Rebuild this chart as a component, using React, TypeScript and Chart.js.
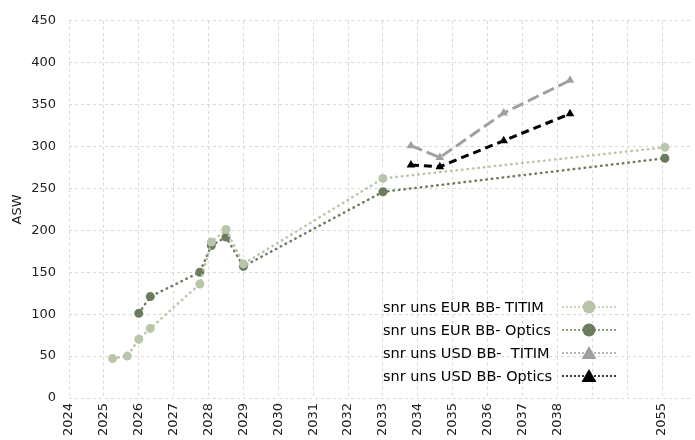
import React, { useEffect, useRef } from 'react';
import { Chart, registerables } from 'chart.js';

Chart.register(...registerables);

// ---- data ----
const tickLabels = [
  '2024', '2025', '2026', '2027', '2028', '2029', '2030', '2031', '2032',
  '2033', '2034', '2035', '2036', '2037', '2038', '', '', '2055',
];

const eurTitimYears = [2025.25, 2025.67, 2026.0, 2026.33, 2027.75, 2028.08, 2028.5, 2029.0, 2033.0, 2055.08];
const eurTitimValues = [47, 50, 70, 83, 136, 186, 201, 160, 262, 299];

const eurOpticsYears = [2026.0, 2026.33, 2027.75, 2028.08, 2028.5, 2029.0, 2033.0, 2055.08];
const eurOpticsValues = [101, 121, 150, 182, 192, 157, 246, 286];

const usdTitimYears = [2033.8, 2034.63, 2036.46, 2038.36];
const usdTitimValues = [301, 287, 340, 379];

const usdOpticsYears = [2033.8, 2034.63, 2036.46, 2038.36];
const usdOpticsValues = [278, 276, 307, 339];

const seriesNames = [
  'snr uns EUR BB- TITIM',
  'snr uns EUR BB- Optics',
  'snr uns USD BB-  TITIM',
  'snr uns USD BB- Optics',
];

// broken axis: 2024..2038 linear, then 2055 placed at slot 17
function axisPos(year: number): number {
  return year >= 2055 ? 17 + (year - 2055) : year - 2024;
}

function toPoints(years: number[], values: number[]) {
  return years.map((y, i) => ({ x: axisPos(y), y: values[i] }));
}

const LIGHT = '#b7c6a9';
const DARK = '#6a7c5c';
const GRAY = '#a0a0a0';
const BLACK = '#000000';
const FONT = '"DejaVu Sans", sans-serif';

const legendStyles = [
  { color: LIGHT, line: LIGHT, marker: 'circle' },
  { color: DARK, line: DARK, marker: 'circle' },
  { color: GRAY, line: GRAY, marker: 'triangle' },
  { color: BLACK, line: BLACK, marker: 'triangle' },
];

const legendPlugin = {
  id: 'customLegend',
  afterDraw(chart: any) {
    const ctx = chart.ctx as CanvasRenderingContext2D;
    seriesNames.forEach((name, i) => {
      const st = legendStyles[i];
      const y = 307 + i * 23;
      ctx.save();
      ctx.font = `14.5px ${FONT}`;
      ctx.fillStyle = '#000';
      ctx.textBaseline = 'middle';
      ctx.textAlign = 'left';
      ctx.fillText(name, 383, y + 1);
      ctx.strokeStyle = st.line;
      ctx.lineWidth = 1.5;
      ctx.setLineDash([2, 2]);
      ctx.beginPath();
      ctx.moveTo(562, y);
      ctx.lineTo(617, y);
      ctx.stroke();
      ctx.setLineDash([]);
      ctx.fillStyle = st.color;
      ctx.beginPath();
      if (st.marker === 'circle') {
        ctx.arc(589, y, 6.5, 0, Math.PI * 2);
      } else {
        ctx.moveTo(589, y - 7);
        ctx.lineTo(596.5, y + 6);
        ctx.lineTo(581.5, y + 6);
        ctx.closePath();
      }
      ctx.fill();
      ctx.restore();
    });
  },
};

export default function App() {
  const ref = useRef<HTMLCanvasElement | null>(null);

  useEffect(() => {
    if (!ref.current) return;
    const chart = new Chart(ref.current, {
      type: 'line',
      data: {
        datasets: [
          {
            label: seriesNames[0],
            data: toPoints(eurTitimYears, eurTitimValues),
            borderColor: LIGHT,
            backgroundColor: LIGHT,
            borderWidth: 2.5,
            borderDash: [0.5, 5],
            borderCapStyle: 'round',
            pointRadius: 4.5,
            pointStyle: 'circle',
            pointBorderWidth: 0,
            tension: 0,
          },
          {
            label: seriesNames[1],
            data: toPoints(eurOpticsYears, eurOpticsValues),
            borderColor: DARK,
            backgroundColor: DARK,
            borderWidth: 2.5,
            borderDash: [0.5, 5],
            borderCapStyle: 'round',
            pointRadius: 4.5,
            pointStyle: 'circle',
            pointBorderWidth: 0,
            tension: 0,
          },
          {
            label: seriesNames[2],
            data: toPoints(usdTitimYears, usdTitimValues),
            borderColor: GRAY,
            backgroundColor: GRAY,
            borderWidth: 3,
            borderDash: [12, 5],
            pointRadius: 5,
            pointStyle: 'triangle',
            pointBorderWidth: 0,
            tension: 0,
          },
          {
            label: seriesNames[3],
            data: toPoints(usdOpticsYears, usdOpticsValues),
            borderColor: BLACK,
            backgroundColor: BLACK,
            borderWidth: 3,
            borderDash: [8, 5],
            pointRadius: 5,
            pointStyle: 'triangle',
            pointBorderWidth: 0,
            tension: 0,
          },
        ],
      },
      options: {
        animation: false,
        responsive: false,
        layout: { padding: { top: 17, right: 0, left: 0, bottom: 0 } },
        plugins: {
          legend: { display: false },
          tooltip: { enabled: false },
        },
        scales: {
          x: {
            type: 'linear',
            min: 0,
            max: 17.8,
            afterBuildTicks: (scale: any) => {
              scale.ticks = tickLabels.map((_, i) => ({ value: i }));
            },
            afterFit: (scale: any) => {
              scale.height = 42;
            },
            ticks: {
              autoSkip: false,
              minRotation: 90,
              maxRotation: 90,
              padding: 5,
              color: '#222',
              font: { family: FONT, size: 13 },
              callback: (v: any) => tickLabels[Math.round(Number(v))] ?? '',
            },
            grid: {
              color: '#d9d9d9',
              lineWidth: 1,
              drawTicks: false,
            },
            border: { display: false, dash: [3, 3] },
          },
          y: {
            min: 0,
            max: 450,
            afterFit: (scale: any) => {
              scale.width = 69;
            },
            ticks: {
              stepSize: 50,
              padding: 13,
              color: '#222',
              font: { family: FONT, size: 13 },
            },
            title: {
              display: true,
              text: 'ASW',
              color: '#222',
              font: { family: FONT, size: 13 },
              padding: { top: 10, bottom: 0 },
            },
            grid: {
              color: '#d9d9d9',
              lineWidth: 1,
              drawTicks: false,
            },
            border: { display: false, dash: [3, 3] },
          },
        },
      },
      plugins: [legendPlugin],
    } as any);
    return () => chart.destroy();
  }, []);

  return (
    <div style={{ position: 'fixed', left: 0, top: 0, width: 695, height: 440, background: '#fff' }}>
      <canvas ref={ref} width={695} height={440} style={{ display: 'block' }} />
    </div>
  );
}
